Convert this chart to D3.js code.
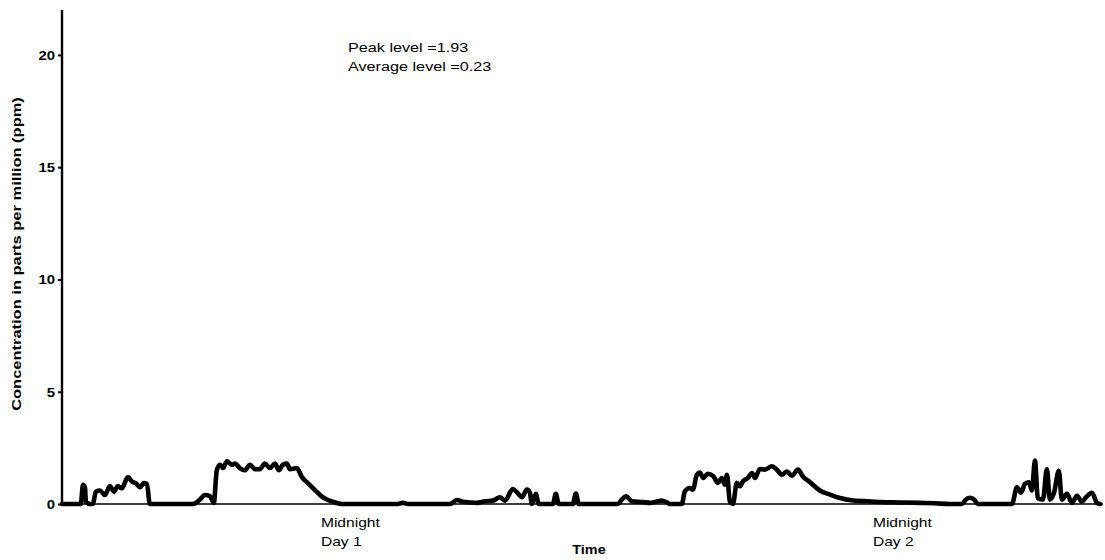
<!DOCTYPE html>
<html><head><meta charset="utf-8">
<script src="https://cdn.jsdelivr.net/npm/d3@7"></script>
<style>
html,body{margin:0;padding:0;background:#fff;}
svg{display:block;font-family:"Liberation Sans",Arial,sans-serif;}
</style></head>
<body><svg id="chart" width="1105" height="560"></svg>
<script>
// hours relative to midnight of Day 1
const hours = [-12.30,-11.52,-11.48,-11.39,-11.30,-11.26,-11.09,-10.96,-10.83,-10.65,-10.43,-10.22,-10.04,-9.87,-9.70,-9.43,-9.26,-9.09,-8.91,-8.74,-8.61,-8.48,
 -6.61,-6.30,-6.09,-5.87,-5.70,-5.57,-5.43,-5.30,-5.13,-4.91,-4.78,-4.57,-4.35,-4.13,-3.91,-3.70,-3.48,-3.26,-3.04,-2.87,-2.70,-2.52,-2.39,-2.09,-1.87,-1.61,-1.30,-1.00,-0.78,-0.52,-0.30,-0.13,
 2.30,2.52,2.74,4.57,4.87,5.13,5.43,5.74,6.09,6.43,6.74,6.96,7.30,7.48,7.70,7.91,8.04,8.13,8.30,8.43,9.04,9.17,9.30,9.91,10.04,10.17,
 11.87,12.04,12.22,12.48,12.96,13.26,13.52,13.78,14.00,14.13,14.65,14.78,15.00,15.13,15.30,15.43,15.57,15.78,16.00,16.22,16.39,16.52,16.61,16.74,16.87,
 17.04,17.17,17.30,17.52,17.70,17.83,18.04,18.26,18.57,18.78,19.00,19.22,19.43,19.70,19.91,20.22,20.65,21.09,21.52,22.09,22.70,23.26,24.13,25.00,25.65,26.30,
 26.83,27.00,27.17,27.35,27.52,29.00,29.22,29.39,29.57,29.74,29.87,30.00,30.13,30.35,30.52,30.65,30.83,31.04,31.17,31.39,31.61,31.83,32.04,32.22,32.48,32.70,32.83];
const ppm = [0,0,0,0.85,0.7,0.1,0,0,0.55,0.6,0.4,0.8,0.55,0.8,0.7,1.2,1.0,0.93,0.75,0.93,0.9,0,
 0,0.2,0.4,0.35,0.05,1.5,1.75,1.6,1.9,1.75,1.8,1.6,1.5,1.75,1.55,1.55,1.8,1.6,1.8,1.5,1.75,1.8,1.55,1.6,1.2,0.93,0.62,0.33,0.2,0.1,0.03,0,
 0,0.05,0,0,0.18,0.1,0.07,0.05,0.12,0.15,0.3,0.15,0.67,0.52,0.3,0.64,0.52,0,0.45,0,0,0.45,0,0,0.47,0,
 0,0.2,0.34,0.12,0.09,0.05,0.1,0.15,0.07,0,0,0.56,0.71,0.64,1.3,1.4,1.16,1.35,1.26,0.94,1.16,0.86,1.3,0.1,0,
 0.94,0.79,1.0,1.16,1.38,1.16,1.56,1.53,1.68,1.53,1.3,1.45,1.26,1.53,1.23,0.97,0.6,0.42,0.27,0.16,0.12,0.09,0.07,0.05,0.03,0,
 0,0.2,0.28,0.2,0,0,0.74,0.5,0.9,0.97,0.6,1.93,0.25,0.2,1.56,0.2,0.5,1.48,0.2,0.45,0.05,0.37,0.1,0.3,0.5,0.05,0];
const yTicks = [0,5,10,15,20];
const xLabels = [{h:0, lines:["Midnight","Day 1"]},{h:24, lines:["Midnight","Day 2"]}];
const annotation = ["Peak level =1.93","Average level =0.23"];
const yTitle = "Concentration in parts per million (ppm)";
const xTitle = "Time";

const SX = 1.2; // horizontal stretch of the scanned lettering
const svg = d3.select("#chart");
const x = d3.scaleLinear().domain([-12.3, 32.96]).range([62, 1103]);
const y = d3.scaleLinear().domain([0, 22]).range([504, 10]);

// x axis line
svg.append("line").attr("x1",62).attr("x2",1103).attr("y1",y(0)).attr("y2",y(0))
  .attr("stroke","#000").attr("stroke-width",1.6);

// y axis
const yAxis = d3.axisLeft(y).tickValues(yTicks).tickSize(4).tickPadding(0).tickFormat(()=>"");
const gy = svg.append("g").attr("transform","translate(62,0)").call(yAxis);
gy.select(".domain").attr("stroke-width",2.4).attr("d","M0,10V505");
gy.selectAll(".tick line").attr("stroke-width",2);
gy.selectAll(".tick").append("text")
  .attr("transform","translate(-7,0) scale(1.15,1)").attr("dy","0.34em")
  .attr("text-anchor","end").attr("font-size",13).attr("font-weight","bold")
  .attr("font-family","'Liberation Sans',Arial,sans-serif").attr("fill","#000")
  .text(d=>d);

// data line
const data = hours.map((h,i)=>({h, v: ppm[i]}));
const line = d3.line().x(d=>x(d.h)).y(d=>y(d.v)).curve(d3.curveMonotoneX);
svg.append("path").datum(data).attr("d",line).attr("fill","none")
  .attr("stroke","#000").attr("stroke-width",4.6).attr("stroke-linejoin","round").attr("stroke-linecap","round");

// x labels
xLabels.forEach(l=>{
  l.lines.forEach((s,i)=>svg.append("text")
    .attr("transform",`translate(${x(l.h)-24},${527+i*19}) scale(${SX},1)`)
    .attr("font-size",13).attr("fill","#000").text(s));
});
svg.append("text").attr("transform",`translate(589,554) scale(${SX},1)`).attr("text-anchor","middle")
  .attr("font-size",12).attr("font-weight","bold").attr("fill","#000").text(xTitle);

// y title
svg.append("text").attr("transform","translate(21,254) rotate(-90) scale(1.22,1)").attr("text-anchor","middle")
  .attr("font-size",13.5).attr("font-weight","bold").attr("fill","#000").text(yTitle);

// annotation
annotation.forEach((s,i)=>svg.append("text")
  .attr("transform",`translate(348,${52+i*19}) scale(${SX},1)`)
  .attr("font-size",13.5).attr("fill","#000").text(s));
</script></body></html>
